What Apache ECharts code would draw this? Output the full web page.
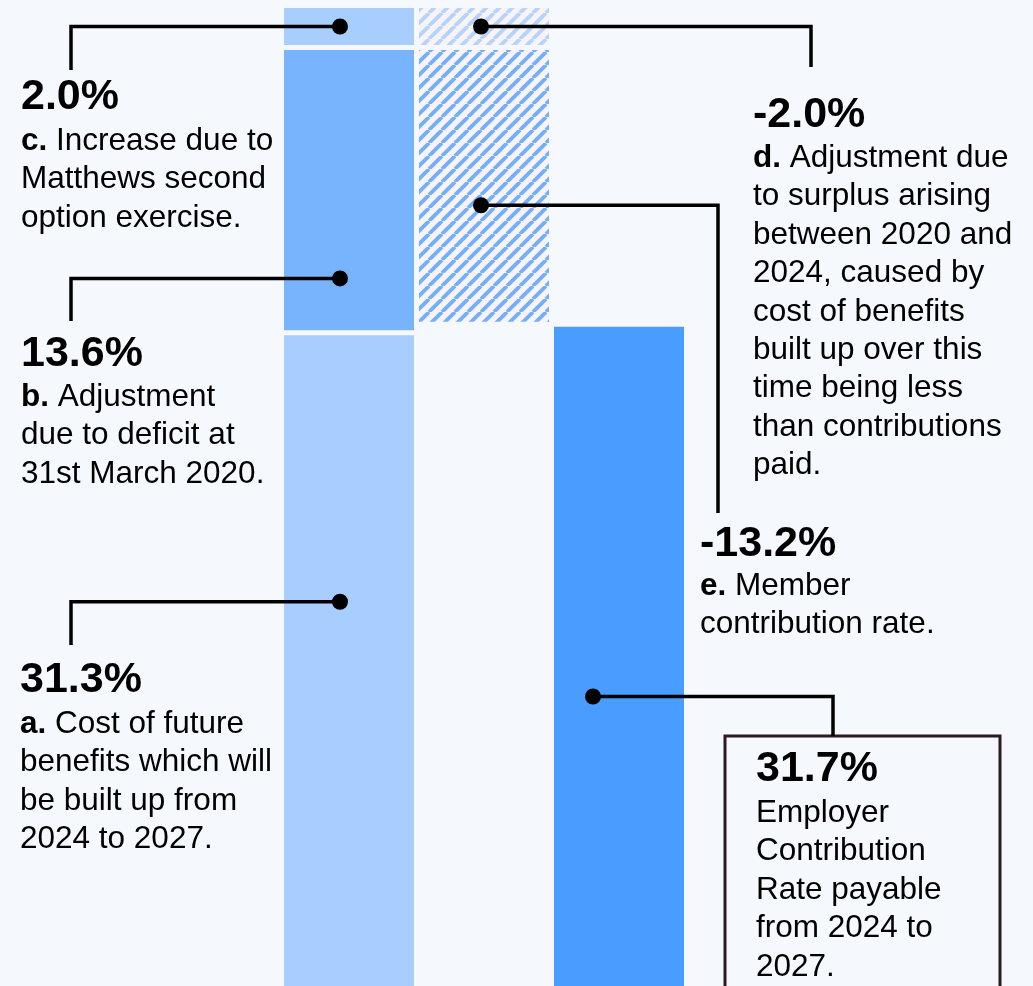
<!DOCTYPE html>
<html><head><meta charset="utf-8">
<script src="https://cdn.jsdelivr.net/npm/echarts@6/dist/echarts.min.js"></script>
<style>html,body{margin:0;padding:0;background:#f5f8fd;overflow:hidden;} #c{width:1033px;height:1000px;}</style>
</head><body><div id="c"></div>
<script>
// ---------- data ----------
const categories = ['Build-up', 'Adjustments', 'Employer rate'];
const segmentKeys = ['a', 'b', 'c', 'd', 'e'];
const segmentValues = [31.3, 13.6, 2.0, -2.0, -13.2];
const employerRate = [31.7];
const segmentTexts = [
  '{b|a.} Cost of future\nbenefits which will\nbe built up from\n2024 to 2027.',
  '{b|b.} Adjustment\ndue to deficit at\n31st March 2020.',
  '{b|c.} Increase due to\nMatthews second\noption exercise.',
  '{b|d.} Adjustment due\nto surplus arising\nbetween 2020 and\n2024, caused by\ncost of benefits\nbuilt up over this\ntime being less\nthan contributions\npaid.',
  '{b|e.} Member\ncontribution rate.'
];
const employerText = ['Employer\nContribution\nRate payable\nfrom 2024 to\n2027.'];

// ---------- derived ----------
const [vA, vB, vC, vD, vE] = segmentValues;
const peak = vA + vB + vC;
const base2 = peak + vD + vE;
const pct = v => v.toFixed(1) + '%';

// ---------- styles ----------
const BG = '#f5f8fd';
const LIGHT = '#a7cefe', MID = '#78b4fe', STRONG = '#489dfe';
function stripes(fg, bg) {
  const s = 13, cv = document.createElement('canvas');
  cv.width = cv.height = s;
  const g = cv.getContext('2d');
  g.fillStyle = bg; g.fillRect(0, 0, s, s);
  g.strokeStyle = fg; g.lineWidth = 3.8; g.beginPath();
  for (const k of [-1, 0, 1]) { g.moveTo(k * s, s); g.lineTo(k * s + s, 0); }
  g.stroke();
  return { image: cv, repeat: 'repeat' };
}
const HATCH_D = stripes('#b3d4fc', '#f9f3f5');
const HATCH_E = stripes('#72b0fd', '#f9f3f5');

const BW = 2.5;
const option = {
  animation: false,
  backgroundColor: BG,
  grid: { left: 281.5, width: 405, top: 5.5, height: 983.5 },
  xAxis: { type: 'category', data: categories, show: false },
  yAxis: { type: 'value', min: 0, max: peak, show: false },
  series: [
    { type: 'bar', stack: 'w', barWidth: 135,
      itemStyle: { borderColor: BG, borderWidth: BW },
      data: [
        { value: vA, itemStyle: { color: LIGHT } },
        { value: base2, itemStyle: { color: 'transparent', borderWidth: 0 } },
        { value: employerRate[0], itemStyle: { color: STRONG } }
      ] },
    { type: 'bar', stack: 'w', barWidth: 135,
      itemStyle: { borderColor: BG, borderWidth: BW },
      data: [
        { value: vB, itemStyle: { color: MID } },
        { value: -vE, itemStyle: { color: HATCH_E } },
        '-'
      ] },
    { type: 'bar', stack: 'w', barWidth: 135,
      itemStyle: { borderColor: BG, borderWidth: BW },
      data: [
        { value: vC, itemStyle: { color: LIGHT } },
        { value: -vD, itemStyle: { color: HATCH_D } },
        '-'
      ] }
  ]
};

const chart = echarts.init(document.getElementById('c'));
chart.setOption(option);

// ---------- callouts (layout) ----------
const FONT = '"Liberation Sans", Arial, sans-serif';
const PFS = 43;
const callouts = [
  { i: 2, col: 0, lower: vA + vB, h: vC, frac: 0.5, dx: -9, elbowX: 71, endY: 70, tx: 21, pb: 110, bb: 151 },
  { i: 1, col: 0, lower: vA, h: vB, frac: 0.19, dx: -9, elbowX: 71, endY: 321, tx: 21, pb: 367, bb: 407 },
  { i: 0, col: 0, lower: 0, h: vA, frac: 0.59, dx: -9, elbowX: 71, endY: 645, tx: 20, pb: 693, bb: 734 },
  { i: 3, col: 1, lower: base2 - vE, h: -vD, frac: 0.5, dx: -3, elbowX: 811, endY: 67, tx: 753, pb: 128, bb: 168 },
  { i: 4, col: 1, lower: base2, h: -vE, frac: 0.43, dx: -3, elbowX: 718, endY: 513, tx: 700, pb: 557, bb: 596 },
  { i: -1, col: 2, lower: 0, h: employerRate[0], frac: 0.44, dx: -26, elbowX: 833, endY: 736, tx: 756, pb: 782, bb: 823 }
];
const graphics = [];
const topFor = (base, fs, lh) => base - lh / 2 - 0.31 * fs;
graphics.push({ type: 'rect', shape: { x: 725, y: 736, width: 275, height: 300 },
  style: { fill: BG, stroke: '#2b1b1f', lineWidth: 3 }, z: 10 });
callouts.forEach(c => {
  const p = chart.convertToPixel({ gridIndex: 0 }, [categories[c.col], c.lower + c.frac * c.h]);
  const x0 = p[0] + c.dx, y0 = p[1];
  graphics.push({ type: 'polyline', z: 20,
    shape: { points: [[x0, y0], [c.elbowX, y0], [c.elbowX, c.endY]] },
    style: { stroke: '#000', lineWidth: 3.5, fill: null } });
  graphics.push({ type: 'circle', z: 21, shape: { cx: x0, cy: y0, r: 8 }, style: { fill: '#000' } });
  const val = c.i >= 0 ? segmentValues[c.i] : employerRate[0];
  const body = c.i >= 0 ? segmentTexts[c.i] : employerText[0];
  graphics.push({ type: 'text', z: 22, x: c.tx, y: topFor(c.pb, PFS, PFS),
    style: { text: pct(val), fontFamily: FONT, fontSize: PFS, fontWeight: 'bold', lineHeight: PFS,
      fill: '#000', align: 'left', verticalAlign: 'top' } });
  graphics.push({ type: 'text', z: 22, x: c.tx, y: topFor(c.bb, 31.5, 38.4),
    style: { text: body, fontFamily: FONT, fontSize: 31.5, lineHeight: 38.4, fill: '#000',
      align: 'left', verticalAlign: 'top',
      rich: { b: { fontFamily: FONT, fontSize: 31.5, lineHeight: 38.4, fontWeight: 'bold', fill: '#000' } } } });
});
chart.setOption({ graphic: graphics });
</script></body></html>
